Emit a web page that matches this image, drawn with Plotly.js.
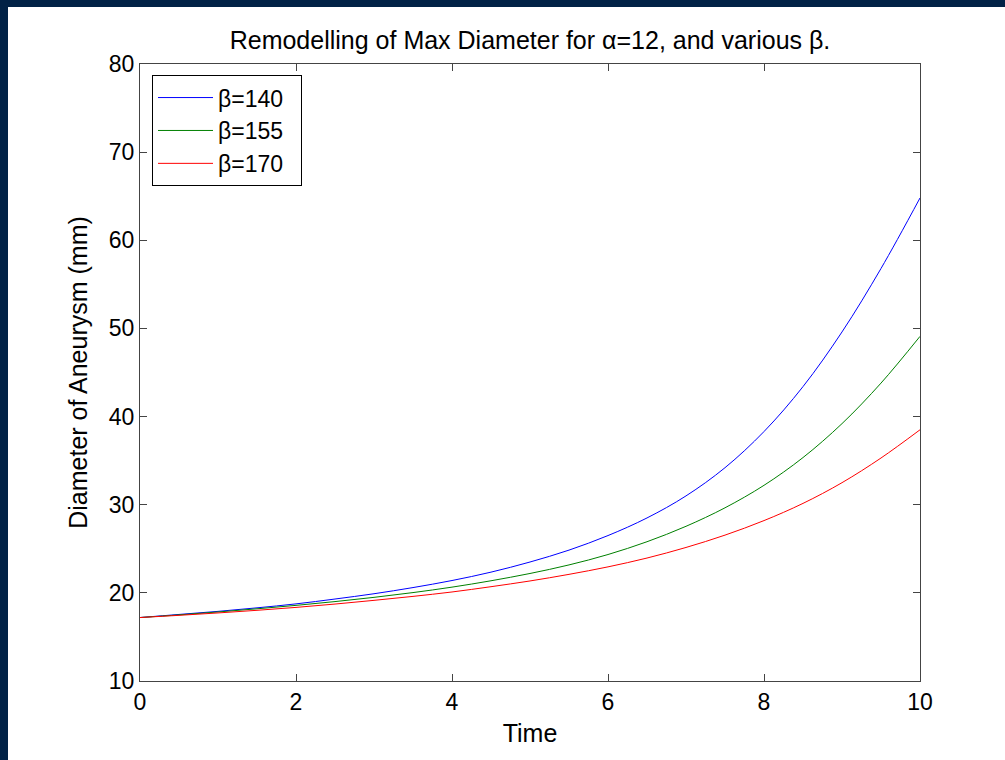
<!DOCTYPE html>
<html>
<head>
<meta charset="utf-8">
<script src="https://cdn.plot.ly/plotly-3.0.1.min.js"></script>
<style>
html,body{margin:0;padding:0;background:#fff;width:1005px;height:760px;overflow:hidden;}
#topbar{position:absolute;left:0;top:0;width:1005px;height:7px;background:#012246;}
#leftbar{position:absolute;left:0;top:0;width:8px;height:760px;background:#012246;}
#chart{position:absolute;left:8px;top:7px;width:997px;height:753px;background:#fff;}
</style>
</head>
<body>
<div id="topbar"></div>
<div id="leftbar"></div>
<div id="chart"></div>
<script>
const time = [0,0.5,1,1.5,2,2.5,3,3.5,4,4.5,5,5.5,6,6.5,7,7.5,8,8.5,9,9.5,10];
const beta140 = [17.2,17.55,17.9,18.3,18.75,19.3,19.9,20.6,21.4,22.35,23.5,24.85,26.5,28.5,31.0,34.2,38.3,43.4,49.6,56.8,64.8];
const beta155 = [17.2,17.5,17.83,18.19,18.58,19.01,19.49,20.03,20.65,21.37,22.2,23.17,24.35,25.8,27.55,29.65,32.2,35.35,39.2,43.8,49.1];
const beta170 = [17.2,17.45,17.72,18.02,18.35,18.73,19.15,19.6,20.1,20.7,21.35,22.1,22.95,23.95,25.15,26.55,28.2,30.15,32.5,35.3,38.5];
const seriesNames = ["\u03b2=140","\u03b2=155","\u03b2=170"];
const xTicks = [0,2,4,6,8,10];
const yTicks = [10,20,30,40,50,60,70,80];

const fam = "Liberation Sans, Arial, sans-serif";
const tickFont = {family:fam, size:23, color:"#000"};
const labelFont = {family:fam, size:25, color:"#000"};
const colors = ["#0000ff","#008000","#ff0000"];
const data = [beta140,beta155,beta170].map((ys,i)=>({
  x: time, y: ys, type:"scatter", mode:"lines", name: seriesNames[i] + "\u00a0\u00a0",
  line:{color:colors[i], width:1, shape:"spline", smoothing:1}
}));

const axisCommon = {
  showgrid:false, zeroline:false, showline:true, linecolor:"#444", linewidth:1,
  mirror:"allticks", ticks:"inside", ticklen:7, tickcolor:"#444", tickwidth:1,
  tickfont:tickFont
};

const layout = {
  width:997, height:753,
  margin:{l:132, r:85, t:57, b:79},
  paper_bgcolor:"#fff", plot_bgcolor:"#fff",
  font:tickFont,
  showlegend:true,
  title:{text:"Remodelling of Max Diameter for \u03b1=12, and various \u03b2.", font:labelFont, x:0.5, xref:"paper", xanchor:"center", y:1-33/753, yanchor:"middle", yref:"container"},
  xaxis:Object.assign({}, axisCommon, {range:[0,10], tickvals:xTicks, ticktext:xTicks.map(String), title:{text:"Time", font:labelFont, standoff:10}}),
  yaxis:Object.assign({}, axisCommon, {range:[10,80], tickvals:yTicks, ticktext:yTicks.map(String), title:{text:"Diameter of Aneurysm (mm)", font:labelFont, standoff:14}}),
  legend:{x:0.0154, y:0.982, xanchor:"left", yanchor:"top", bgcolor:"#fff", bordercolor:"#000", borderwidth:1, itemwidth:55, font:{family:fam,size:23,color:"#000"}, tracegroupgap:0}
};

Plotly.newPlot("chart", data, layout, {displayModeBar:false, staticPlot:true});
</script>
</body>
</html>
